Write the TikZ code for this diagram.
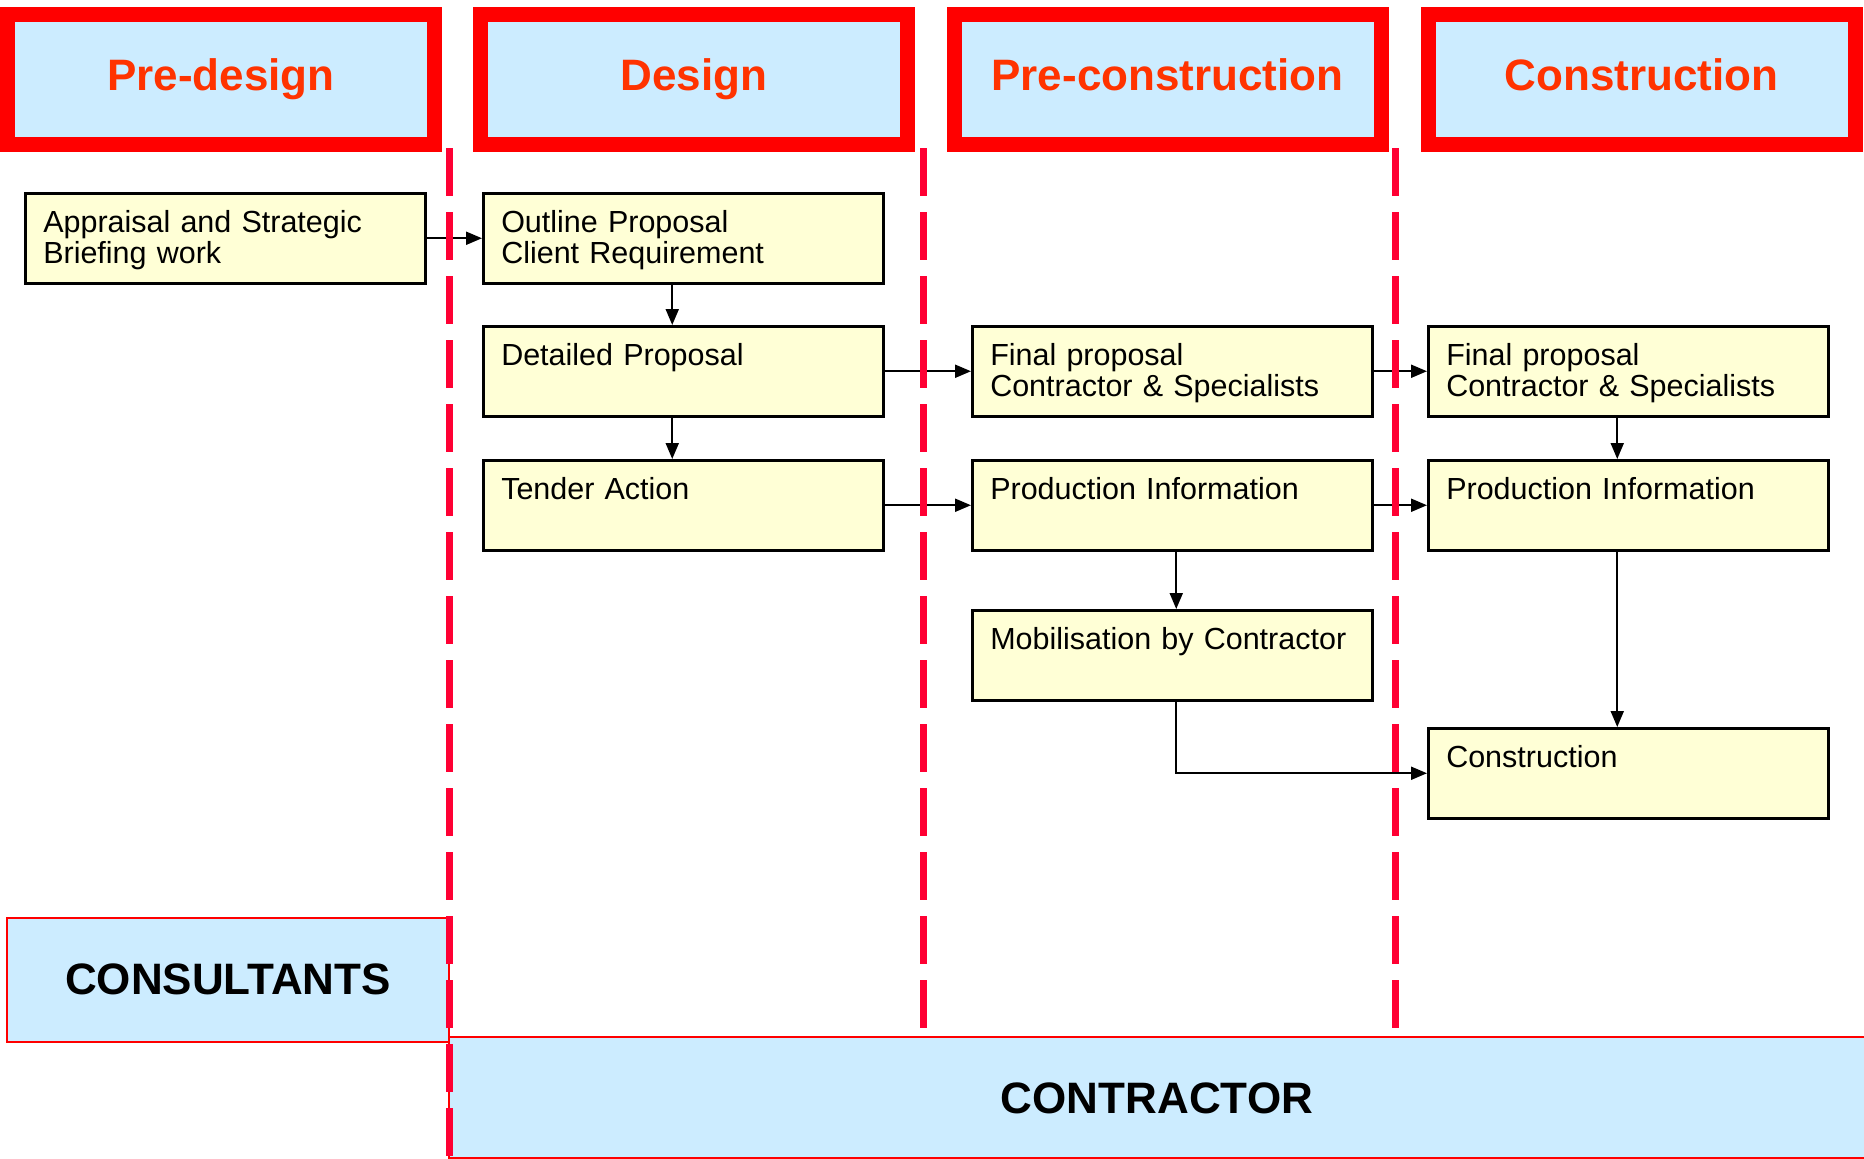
\documentclass[tikz,border=0pt]{standalone}
\usepackage{fontspec}
\setmainfont{Liberation Sans}
\usetikzlibrary{arrows.meta}
\definecolor{hdrred}{HTML}{FF0000}
\definecolor{hdrtext}{HTML}{FF3300}
\definecolor{lblue}{HTML}{CCECFF}
\definecolor{dashred}{HTML}{FF0033}
\definecolor{boxfill}{HTML}{FFFFD6}
\newcommand\boxfont{\fontsize{30.5pt}{31pt}\selectfont}
\newcommand\hdrfont{\bfseries\fontsize{44pt}{50pt}\selectfont}
\begin{document}
\begin{tikzpicture}[x=1pt,y=-1pt,
  hdr/.style={draw=hdrred, line width=15pt, fill=lblue, minimum width=427pt,
    minimum height=130pt, inner sep=0pt, text=hdrtext, font=\hdrfont,
    text height=31pt, text depth=10pt},
  role/.style={draw=hdrred, line width=2pt, fill=lblue, inner sep=0pt,
    font=\hdrfont, text=black},
  pbox/.style={draw=black, line width=2.5pt, fill=boxfill, anchor=north west,
    text width=364pt, inner xsep=18pt, inner ysep=0pt, text height=39pt,
    text depth=51pt, align=left, font=\boxfont},
  arr/.style={draw=black, line width=2pt, -{Triangle[length=16pt,width=13pt]}},
  divider/.style={draw=dashred, line width=7pt, dash pattern=on 48pt off 16pt}]
\useasboundingbox (0,0) rectangle (1864,1159);
\fill[white] (0,0) rectangle (1864,1159);

% headers
\node[hdr] (hpd) at (221,79.5) {Pre-design};
\node[hdr] (hd) at (694,79.5) {Design};
\node[hdr] (hpc) at (1167.5,79.5) {Pre-construction};
\node[hdr] (hc) at (1641.5,79.5) {Construction};

% role boxes
\node[role, minimum width=1416pt, minimum height=121pt, text height=32pt, text depth=0pt] (contr) at (1157,1097.5) {CONTRACTOR};
\node[role, minimum width=442pt, minimum height=124pt, text height=32pt, text depth=4pt] (cons) at (228,980) {CONSULTANTS};

% process boxes
\node[pbox] (app) at (24,192) {Appraisal and Strategic\\Briefing work};
\node[pbox] (out) at (482,192) {Outline Proposal\\Client Requirement};
\node[pbox] (det) at (482,325) {Detailed Proposal};
\node[pbox] (ten) at (482,459) {Tender Action};
\node[pbox] (fp1) at (971,325) {Final proposal\\Contractor \& Specialists};
\node[pbox] (pi1) at (971,459) {Production Information};
\node[pbox] (mob) at (971,609) {Mobilisation by Contractor};
\node[pbox] (fp2) at (1427,325) {Final proposal\\Contractor \& Specialists};
\node[pbox] (pi2) at (1427,459) {Production Information};
\node[pbox] (con) at (1427,727) {Construction};

% connectors
\draw[arr] (app.east) -- (out.west);
\draw[arr] ([xshift=-11pt]out.south) -- ([xshift=-11pt]det.north);
\draw[arr] ([xshift=-11pt]det.south) -- ([xshift=-11pt]ten.north);
\draw[arr] (det.east) -- (fp1.west);
\draw[arr] (ten.east) -- (pi1.west);
\draw[arr] (fp1.east) -- (fp2.west);
\draw[arr] (pi1.east) -- (pi2.west);
\draw[arr] ([xshift=4pt]pi1.south) -- ([xshift=4pt]mob.north);
\draw[arr] ([xshift=-11pt]fp2.south) -- ([xshift=-11pt]pi2.north);
\draw[arr] ([xshift=-11pt]pi2.south) -- ([xshift=-11pt]con.north);
\draw[arr] ([xshift=4pt]mob.south) |- (con.west);

% dividers
\draw[divider] (449,148) -- (449,1159);
\draw[divider] (923,148) -- (923,1037);
\draw[divider] (1395,148) -- (1395,1037);
\end{tikzpicture}
\end{document}
